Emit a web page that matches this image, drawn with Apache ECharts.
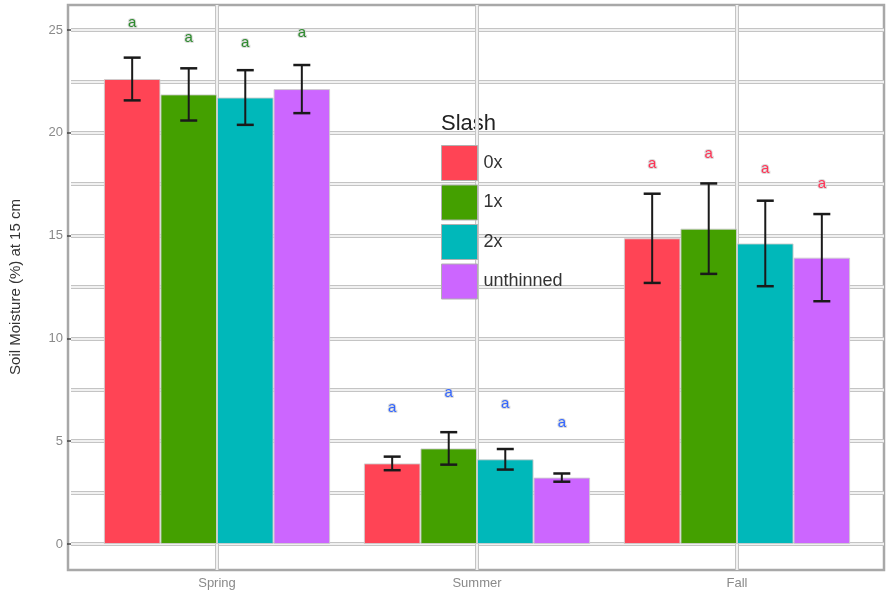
<!DOCTYPE html>
<html>
<head>
<meta charset="utf-8">
<script src="https://cdn.jsdelivr.net/npm/echarts@6/dist/echarts.min.js"></script>
<style>
  html, body { margin: 0; padding: 0; background: #fff; }
  #chart { width: 890px; height: 596px; }
</style>
</head>
<body>
<div id="chart"></div>
<script>
// Soil moisture at 15 cm by season and slash treatment
const seasons = ['Spring', 'Summer', 'Fall'];
const slashLevels = ['0x', '1x', '2x', 'unthinned'];
const slashColors = ['#ff4455', '#44a000', '#00b8ba', '#cc66ff'];

// mean soil moisture (%) per season
const mean0x = [22.62, 3.92, 14.87];
const mean1x = [21.87, 4.65, 15.34];
const mean2x = [21.72, 4.12, 14.62];
const meanUnthinned = [22.13, 3.23, 13.93];

// error bar half-widths
const err0x = [1.04, 0.33, 2.17];
const err1x = [1.27, 0.79, 2.20];
const err2x = [1.33, 0.50, 2.08];
const errUnthinned = [1.17, 0.20, 2.12];

// significance letters and the height they sit at
const letters0x = ['a', 'a', 'a'];
const letters1x = ['a', 'a', 'a'];
const letters2x = ['a', 'a', 'a'];
const lettersUnthinned = ['a', 'a', 'a'];
const letterPos0x = [25.34, 6.60, 18.50];
const letterPos1x = [24.60, 7.33, 19.00];
const letterPos2x = [24.40, 6.80, 18.24];
const letterPosUnthinned = [24.85, 5.90, 17.54];
const seasonLetterColors = ['#2e8b2e', '#3366ff', '#ff3355'];

// y axis tick labels
const yTicks = [0, 5, 10, 15, 20, 25];

const means = [mean0x, mean1x, mean2x, meanUnthinned];
const errs = [err0x, err1x, err2x, errUnthinned];
const letters = [letters0x, letters1x, letters2x, lettersUnthinned];
const letterPos = [letterPos0x, letterPos1x, letterPos2x, letterPosUnthinned];

const CAT_GAP = 0.13;          // share of each category band left empty
const FONT = '"Liberation Sans", Arial, sans-serif';

function barOffset(api, k) {
  const band = api.size([1, 0])[0];
  const w = band * (1 - CAT_GAP) / slashLevels.length;
  return (k - (slashLevels.length - 1) / 2) * w;
}

const barSeries = slashLevels.map((name, k) => ({
  type: 'bar',
  name: name,
  xAxisIndex: 2,
  yAxisIndex: 3,
  data: means[k],
  barGap: '0%',
  barCategoryGap: (CAT_GAP * 100) + '%',
  itemStyle: { color: slashColors[k], borderColor: 'rgba(205,205,205,0.9)', borderWidth: 1 },
  z: 2
}));

const errorSeries = slashLevels.map((name, k) => ({
  type: 'custom',
  name: 'err-' + name,
  xAxisIndex: 2,
  yAxisIndex: 3,
  z: 5,
  data: seasons.map((s, i) => [i, means[k][i] - errs[k][i], means[k][i] + errs[k][i]]),
  renderItem(params, api) {
    const off = barOffset(api, k);
    const hi = api.coord([api.value(0), api.value(2)]);
    const lo = api.coord([api.value(0), api.value(1)]);
    const x = hi[0] + off;
    const cap = 8.5;
    const st = { stroke: '#1a1a1a', lineWidth: 2 };
    return {
      type: 'group',
      children: [
        { type: 'line', shape: { x1: x, y1: hi[1], x2: x, y2: lo[1] }, style: st },
        { type: 'line', shape: { x1: x - cap, y1: hi[1], x2: x + cap, y2: hi[1] }, style: { stroke: '#1a1a1a', lineWidth: 2.5 } },
        { type: 'line', shape: { x1: x - cap, y1: lo[1], x2: x + cap, y2: lo[1] }, style: { stroke: '#1a1a1a', lineWidth: 2.5 } }
      ]
    };
  }
}));

const letterSeries = slashLevels.map((name, k) => ({
  type: 'custom',
  name: 'letters-' + name,
  xAxisIndex: 2,
  yAxisIndex: 3,
  z: 6,
  data: seasons.map((s, i) => [i, letterPos[k][i]]),
  renderItem(params, api) {
    const i = api.value(0);
    const p = api.coord([i, api.value(1)]);
    return {
      type: 'text',
      x: p[0] + barOffset(api, k),
      y: p[1],
      style: {
        text: letters[k][i],
        fill: seasonLetterColors[i],
        font: '15px ' + FONT,
        align: 'center',
        verticalAlign: 'middle',
        stroke: 'rgba(215,215,215,0.9)',
        lineWidth: 2
      }
    };
  }
}));

// vertical grid lines through each season
const vGridSeries = {
  type: 'custom',
  name: 'vgrid',
  xAxisIndex: 2,
  yAxisIndex: 3,
  z: 1,
  silent: true,
  data: seasons.map((s, i) => [i]),
  renderItem(params, api) {
    const x = api.coord([api.value(0), 0])[0];
    const cs = params.coordSys;
    return {
      type: 'group',
      children: [
        { type: 'line', shape: { x1: x, y1: cs.y, x2: x, y2: cs.y + cs.height }, style: { stroke: '#c4c4c4', lineWidth: 4 } },
        { type: 'line', shape: { x1: x, y1: cs.y, x2: x, y2: cs.y + cs.height }, style: { stroke: '#ffffff', lineWidth: 1.5 } }
      ]
    };
  }
};

const chart = echarts.init(document.getElementById('chart'), null, { renderer: 'canvas' });
chart.setOption({
  animation: false,
  backgroundColor: '#ffffff',
  textStyle: { fontFamily: FONT },
  grid: [
    // y scale + horizontal grid lines
    { left: 68, right: 6, top: 30, bottom: 52 },
    // panel border
    { left: 68, right: 6, top: 5, bottom: 26, show: true, borderColor: '#a8a8a8', borderWidth: 2.5, backgroundColor: 'transparent' },
    // bars
    { left: 87, right: 23, top: 5, bottom: 26 }
  ],
  xAxis: [
    { gridIndex: 0, type: 'value', show: false },
    { gridIndex: 1, type: 'value', show: false },
    {
      gridIndex: 2, type: 'category', data: seasons, position: 'bottom',
      axisLine: { show: false },
      axisTick: { show: true, alignWithLabel: true, length: 3, lineStyle: { color: '#444', width: 1.5 } },
      axisLabel: { color: '#8a8a8a', fontSize: 13, margin: 7, fontFamily: FONT },
      splitLine: { show: false }
    }
  ],
  yAxis: [
    {
      gridIndex: 0, type: 'value',
      min: yTicks[0], max: yTicks[yTicks.length - 1], interval: yTicks[1] - yTicks[0],
      name: 'Soil Moisture (%) at 15 cm',
      nameLocation: 'middle', nameGap: 48,
      nameTextStyle: { color: '#333', fontSize: 15, fontFamily: FONT },
      axisLine: { show: false },
      axisTick: { show: true, length: 4, lineStyle: { color: '#444', width: 1.5 } },
      axisLabel: { color: '#8a8a8a', fontSize: 13, margin: 8, fontFamily: FONT },
      minorTick: { show: false, splitNumber: 2 },
      splitLine: { show: true, lineStyle: { color: '#c4c4c4', width: 4 } },
      minorSplitLine: { show: true, lineStyle: { color: '#c4c4c4', width: 4 } }
    },
    {
      gridIndex: 0, type: 'value', position: 'right',
      min: yTicks[0], max: yTicks[yTicks.length - 1], interval: yTicks[1] - yTicks[0],
      axisLine: { show: false }, axisTick: { show: false }, axisLabel: { show: false },
      minorTick: { show: false, splitNumber: 2 },
      splitLine: { show: true, lineStyle: { color: '#ffffff', width: 1.5 } },
      minorSplitLine: { show: true, lineStyle: { color: '#ffffff', width: 1.5 } }
    },
    { gridIndex: 1, type: 'value', show: false },
    {
      gridIndex: 2, type: 'value', min: -1.265, max: 26.22,
      axisLine: { show: false }, axisTick: { show: false }, axisLabel: { show: false },
      splitLine: { show: false }
    }
  ],
  legend: {
    data: slashLevels,
    orient: 'vertical',
    left: 441,
    top: 145,
    padding: 0,
    itemWidth: 36,
    itemHeight: 35,
    itemGap: 3.5,
    icon: 'rect',
    itemStyle: { borderColor: '#b0b0b0', borderWidth: 1 },
    textStyle: { color: '#333', fontSize: 18, fontFamily: FONT, padding: [0, 0, 0, 1] }
  },
  graphic: [
    {
      type: 'text', left: 441, top: 113,
      style: { text: 'Slash', fill: '#222', font: '22px ' + FONT }
    }
  ],
  series: [vGridSeries].concat(barSeries, errorSeries, letterSeries)
});
</script>
</body>
</html>
